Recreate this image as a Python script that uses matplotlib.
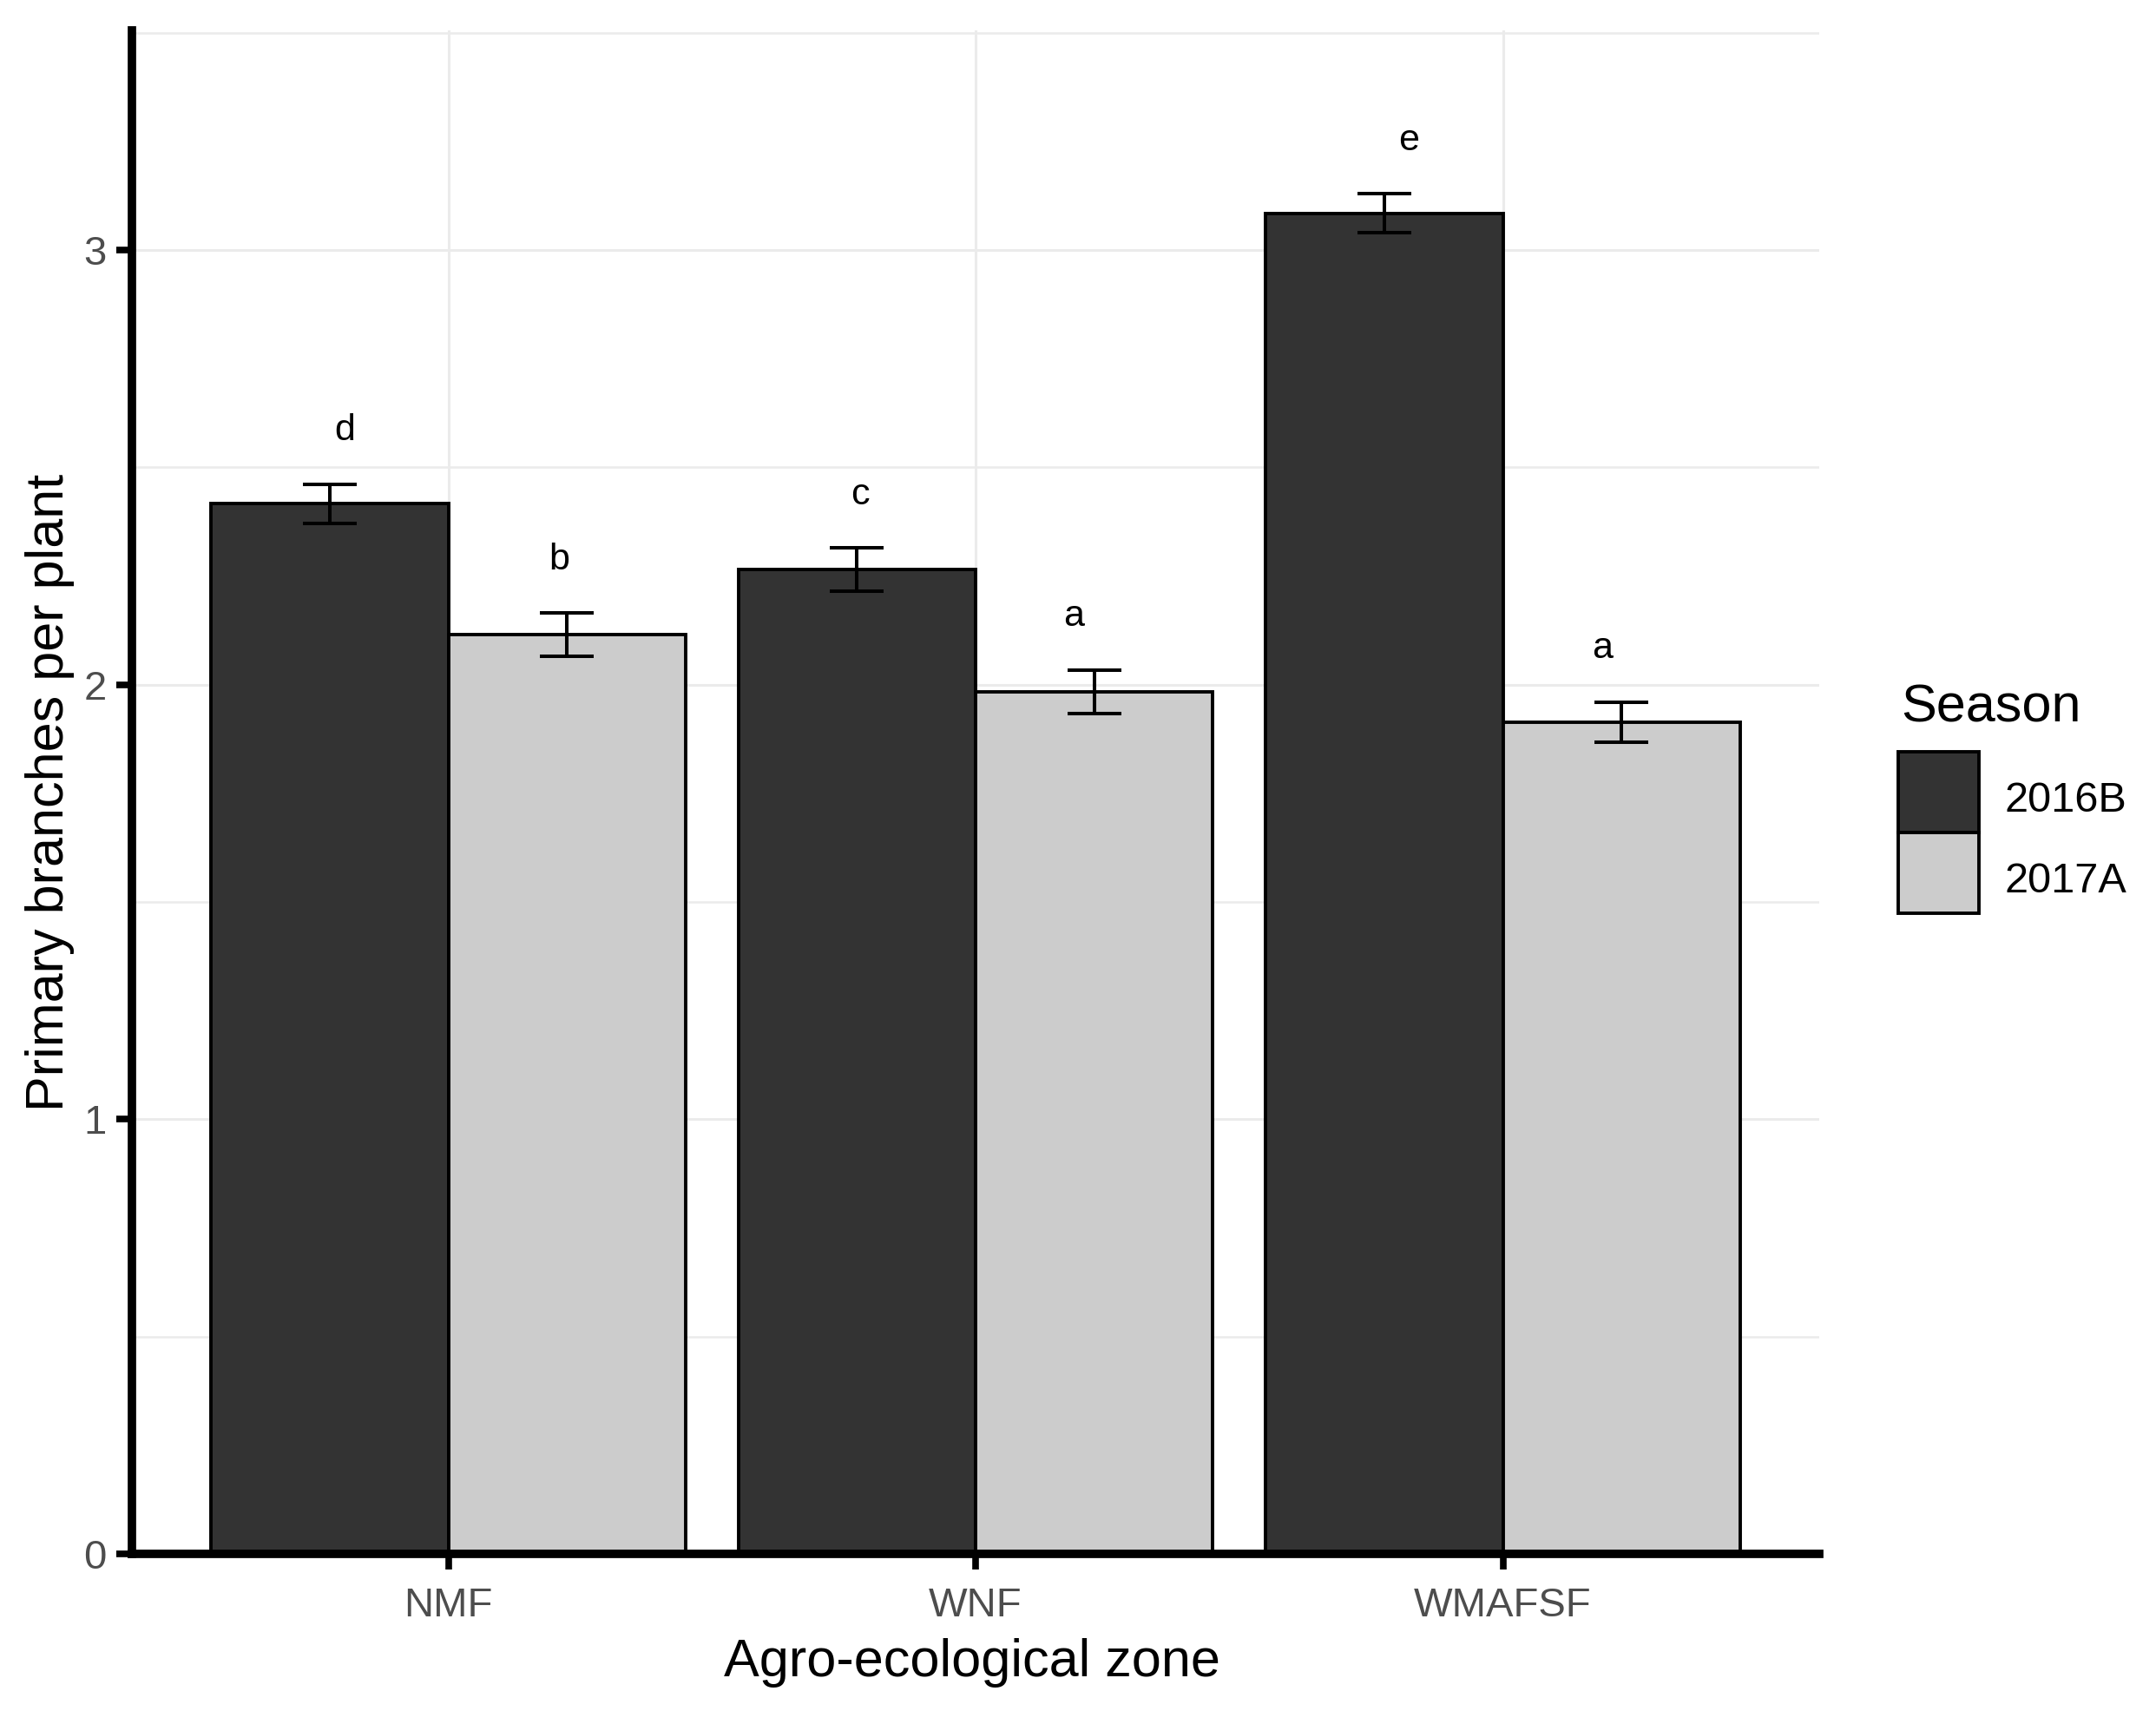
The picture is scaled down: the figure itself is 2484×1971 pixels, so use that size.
import numpy as np
from matplotlib import pyplot as plt
from matplotlib.patches import Rectangle
from matplotlib.ticker import MultipleLocator

plt.rcParams['font.family'] = ['Liberation Sans', 'DejaVu Sans']

zones = ['NMF', 'WNF', 'WMAFSF']
seasons = ['2016B', '2017A']
mean_2016b = [2.416, 2.264, 3.084]
se_2016b = [0.045, 0.050, 0.045]
mean_2017a = [2.115, 1.984, 1.914]
se_2017a = [0.049, 0.050, 0.046]
letters_2016b = ['d', 'c', 'e']
letters_2017a = ['b', 'a', 'a']

# small horizontal nudges of the letters as placed in the original figure
nudge_2016b = [0.028, 0.006, 0.047]
nudge_2017a = [-0.014, -0.038, -0.036]

W, H = 2484, 1971
fig = plt.figure(figsize=(W / 100, H / 100), dpi=100)
ax = fig.add_axes([152 / W, 181 / H, 1944 / W, 1755 / H])

x = np.arange(len(zones))
w = 0.45
colors = ['#333333', '#CCCCCC']
series = [
    (mean_2016b, se_2016b, letters_2016b, nudge_2016b, colors[0], -w / 2),
    (mean_2017a, se_2017a, letters_2017a, nudge_2017a, colors[1], w / 2),
]
for means, ses, lets, nud, col, off in series:
    ax.bar(x + off, means, width=w, color=col, edgecolor='black', linewidth=2.8, zorder=2)
    ax.errorbar(x + off, means, yerr=ses, fmt='none', ecolor='black',
                elinewidth=2.9, capsize=22, capthick=2.9, zorder=3)
    for xi, m, s, t, dx in zip(x + off, means, ses, lets, nud):
        ax.text(xi + dx, m + s + 0.123, t, ha='center', va='center', fontsize=31, color='black')

ax.set_xlim(-0.6, 2.6)
ax.set_ylim(0, 3.505)
ax.set_xticks(x)
ax.set_xticklabels(zones)
ax.yaxis.set_major_locator(MultipleLocator(1))
ax.yaxis.set_minor_locator(MultipleLocator(0.5))
ax.set_axisbelow(True)
ax.grid(which='major', color='#EBEBEB', linewidth=2.2)
ax.grid(which='minor', axis='y', color='#EBEBEB', linewidth=1.8)
ax.tick_params(which='minor', length=0)
ax.tick_params(which='major', length=13, width=5.5, color='black',
               labelsize=34, labelcolor='#4D4D4D')
ax.tick_params(axis='x', pad=14)
ax.tick_params(axis='y', pad=8)

for s in ['top', 'right']:
    ax.spines[s].set_visible(False)
for s in ['left', 'bottom']:
    ax.spines[s].set_linewidth(7)
    ax.spines[s].set_color('black')

ax.set_xlabel('Agro-ecological zone', fontsize=44)
ax.xaxis.label.set_va('center')
ax.xaxis.set_label_coords(0.498, -0.0713)
ax.set_ylabel('Primary branches per plant', fontsize=44)
ax.yaxis.label.set_va('center')
ax.yaxis.set_label_coords(-0.0485, 0.5)

# legend drawn by hand, ggplot style: square keys stacked without gaps
fig.text(2190 / W, 1 - 832 / H, 'Season', fontsize=44, va='baseline', ha='left')
key_top, key = 866, 93
for i, (lab, col) in enumerate(zip(seasons, colors)):
    top = key_top + i * key
    fig.patches.append(Rectangle((2187 / W, 1 - (top + key) / H), key / W, key / H,
                                 transform=fig.transFigure, facecolor=col,
                                 edgecolor='black', linewidth=2.8))
    fig.text(2310 / W, 1 - (top + 69) / H, lab, fontsize=35, va='baseline', ha='left')

fig.savefig('out.png', dpi=100)
